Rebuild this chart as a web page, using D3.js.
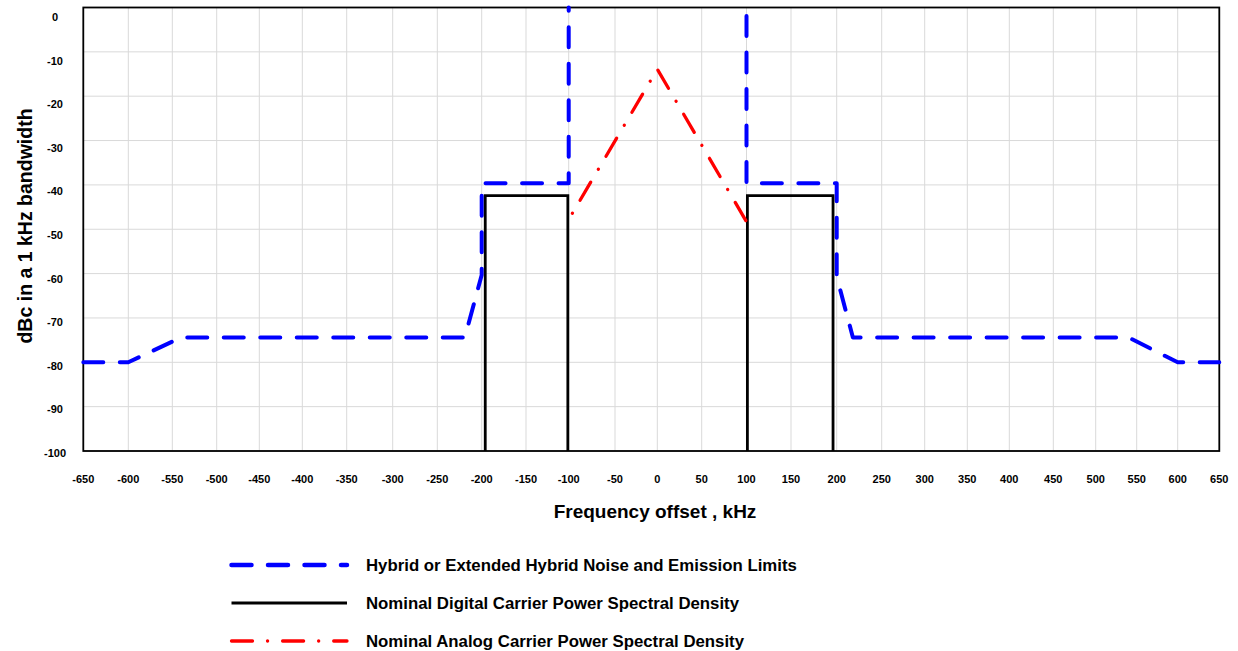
<!DOCTYPE html>
<html>
<head>
<meta charset="utf-8">
<script src="https://cdn.jsdelivr.net/npm/d3@7/dist/d3.min.js"></script>
<style>
  html, body { margin: 0; padding: 0; background: #ffffff; }
  svg { display: block; font-family: "Liberation Sans", Arial, sans-serif; }
</style>
</head>
<body>
<svg id="chart" width="1238" height="651"></svg>
<script>
// ---------------- DATA ----------------
const freqTicks = [-650,-600,-550,-500,-450,-400,-350,-300,-250,-200,-150,-100,-50,0,50,100,150,200,250,300,350,400,450,500,550,600,650];
const dbTicks = [0,-10,-20,-30,-40,-50,-60,-70,-80,-90,-100];

// Hybrid / Extended Hybrid noise and emission limits (two branches)
const limitsLeftFreq  = [-650, -600, -540, -219, -200, -200, -100, -100];
const limitsLeftDb    = [-80,  -80,  -74.4, -74.4, -60.3, -39.6, -39.6, 0];
const limitsRightFreq = [100, 100, 200, 200, 218, 540, 600, 650];
const limitsRightDb   = [0, -39.6, -39.6, -60.7, -74.4, -74.4, -80, -80];

// Nominal digital carrier PSD (lower and upper sidebands)
const digitalLowerFreq = [-196, -196, -101, -101];
const digitalLowerDb   = [-100, -42.4, -42.4, -100];
const digitalUpperFreq = [101, 101, 196, 196];
const digitalUpperDb   = [-100, -42.4, -42.4, -100];

// Nominal analog carrier PSD
const analogFreq = [-96, 0, 100];
const analogDb   = [-46.4, -13.9, -48.3];

const legendLabels = [
  "Hybrid or Extended Hybrid Noise and Emission Limits",
  "Nominal Digital Carrier Power Spectral Density",
  "Nominal Analog Carrier Power Spectral Density"
];
const xTitle = "Frequency offset , kHz";
const yTitle = "dBc in a 1 kHz bandwidth";

// ---------------- LAYOUT ----------------
// pixel calibration of the (slightly non-uniform) frequency gridlines
const xGridPixels = [83.3,128.3,172.3,216.7,259.3,302.3,346.7,392.7,437.3,481.7,526,568.7,615,657.3,701.7,746.5,791,836.7,881.7,924.7,967.3,1009.3,1053.3,1095.7,1136.7,1177.7,1219.3];
const plotTop = 7.5, plotBottom = 451;

const svg = d3.select("#chart");
svg.append("rect").attr("width", 1238).attr("height", 651).attr("fill", "#fff");

const x = d3.scaleLinear().domain(freqTicks).range(xGridPixels);
const y = d3.scaleLinear().domain([-100, 0]).range([plotBottom, plotTop]);
const yLabelPos = d3.scaleLinear().domain([0, -100]).range([17, 453]);

const left = x(-650), right = x(650);

// gridlines
const grid = svg.append("g").attr("stroke", "#d9d9d9").attr("stroke-width", 1);
grid.selectAll("line.v").data(freqTicks).join("line")
  .attr("x1", d => x(d)).attr("x2", d => x(d))
  .attr("y1", plotTop).attr("y2", plotBottom);
grid.selectAll("line.h").data(dbTicks).join("line")
  .attr("x1", left).attr("x2", right)
  .attr("y1", d => y(d)).attr("y2", d => y(d));

// plot border
svg.append("rect")
  .attr("x", left).attr("y", plotTop)
  .attr("width", right - left).attr("height", plotBottom - plotTop)
  .attr("fill", "none").attr("stroke", "#000").attr("stroke-width", 1.8);

// tick labels
svg.append("g").selectAll("text").data(freqTicks).join("text")
  .attr("x", d => x(d)).attr("y", 483)
  .attr("text-anchor", "middle")
  .attr("font-size", 11).attr("font-weight", "bold").attr("fill", "#000")
  .text(d => d);
svg.append("g").selectAll("text").data(dbTicks).join("text")
  .attr("x", 55).attr("y", d => yLabelPos(d) + 4)
  .attr("text-anchor", "middle")
  .attr("font-size", 11).attr("font-weight", "bold").attr("fill", "#000")
  .text(d => d);

// axis titles
svg.append("text")
  .attr("x", 655).attr("y", 518)
  .attr("text-anchor", "middle")
  .attr("font-size", 19).attr("font-weight", "bold")
  .text(xTitle);
svg.append("text")
  .attr("transform", "translate(31.5,226) rotate(-90)")
  .attr("text-anchor", "middle")
  .attr("font-size", 19.5).attr("font-weight", "bold")
  .text(yTitle);

// series
const line = d3.line().x(d => x(d[0])).y(d => y(d[1]));
const zip = (a, b) => a.map((v, i) => [v, b[i]]);

const blueStyle = sel => sel.attr("fill", "none").attr("stroke", "#0000ff")
  .attr("stroke-width", 4).attr("stroke-dasharray", "20,16.5")
  .attr("stroke-linecap", "round").attr("stroke-linejoin", "round");
const blackStyle = sel => sel.attr("fill", "none").attr("stroke", "#000")
  .attr("stroke-width", 2.8).attr("stroke-linejoin", "miter");
const redStyle = sel => sel.attr("fill", "none").attr("stroke", "#ff0000")
  .attr("stroke-width", 3.3).attr("stroke-dasharray", "21,15,0.1,15")
  .attr("stroke-linecap", "round").attr("stroke-linejoin", "round");

svg.append("path").attr("d", line(zip(limitsLeftFreq, limitsLeftDb))).call(blueStyle);
svg.append("path").attr("d", line(zip(limitsRightFreq, limitsRightDb))).call(blueStyle)
  .attr("stroke-dashoffset", 28);

svg.append("path").attr("d", line(zip(digitalLowerFreq, digitalLowerDb))).call(blackStyle);
svg.append("path").attr("d", line(zip(digitalUpperFreq, digitalUpperDb))).call(blackStyle);

svg.append("path").attr("d", line(zip(analogFreq, analogDb))).call(redStyle)
  .attr("stroke-dashoffset", 36);

// legend
const legendRows = [565, 603, 641];
const styles = [blueStyle, blackStyle, redStyle];
legendLabels.forEach((lab, i) => {
  const g = svg.append("g");
  const ln = g.append("line")
    .attr("x1", 231.5).attr("x2", 347)
    .attr("y1", legendRows[i]).attr("y2", legendRows[i])
    .call(styles[i]);
  if (i === 0) ln.attr("stroke-width", 4.5);
  if (i === 1) ln.attr("stroke-width", 3);
  g.append("text")
    .attr("x", 366).attr("y", legendRows[i] + 6)
    .attr("font-size", 16.8).attr("font-weight", "bold")
    .text(lab);
});
</script>
</body>
</html>
